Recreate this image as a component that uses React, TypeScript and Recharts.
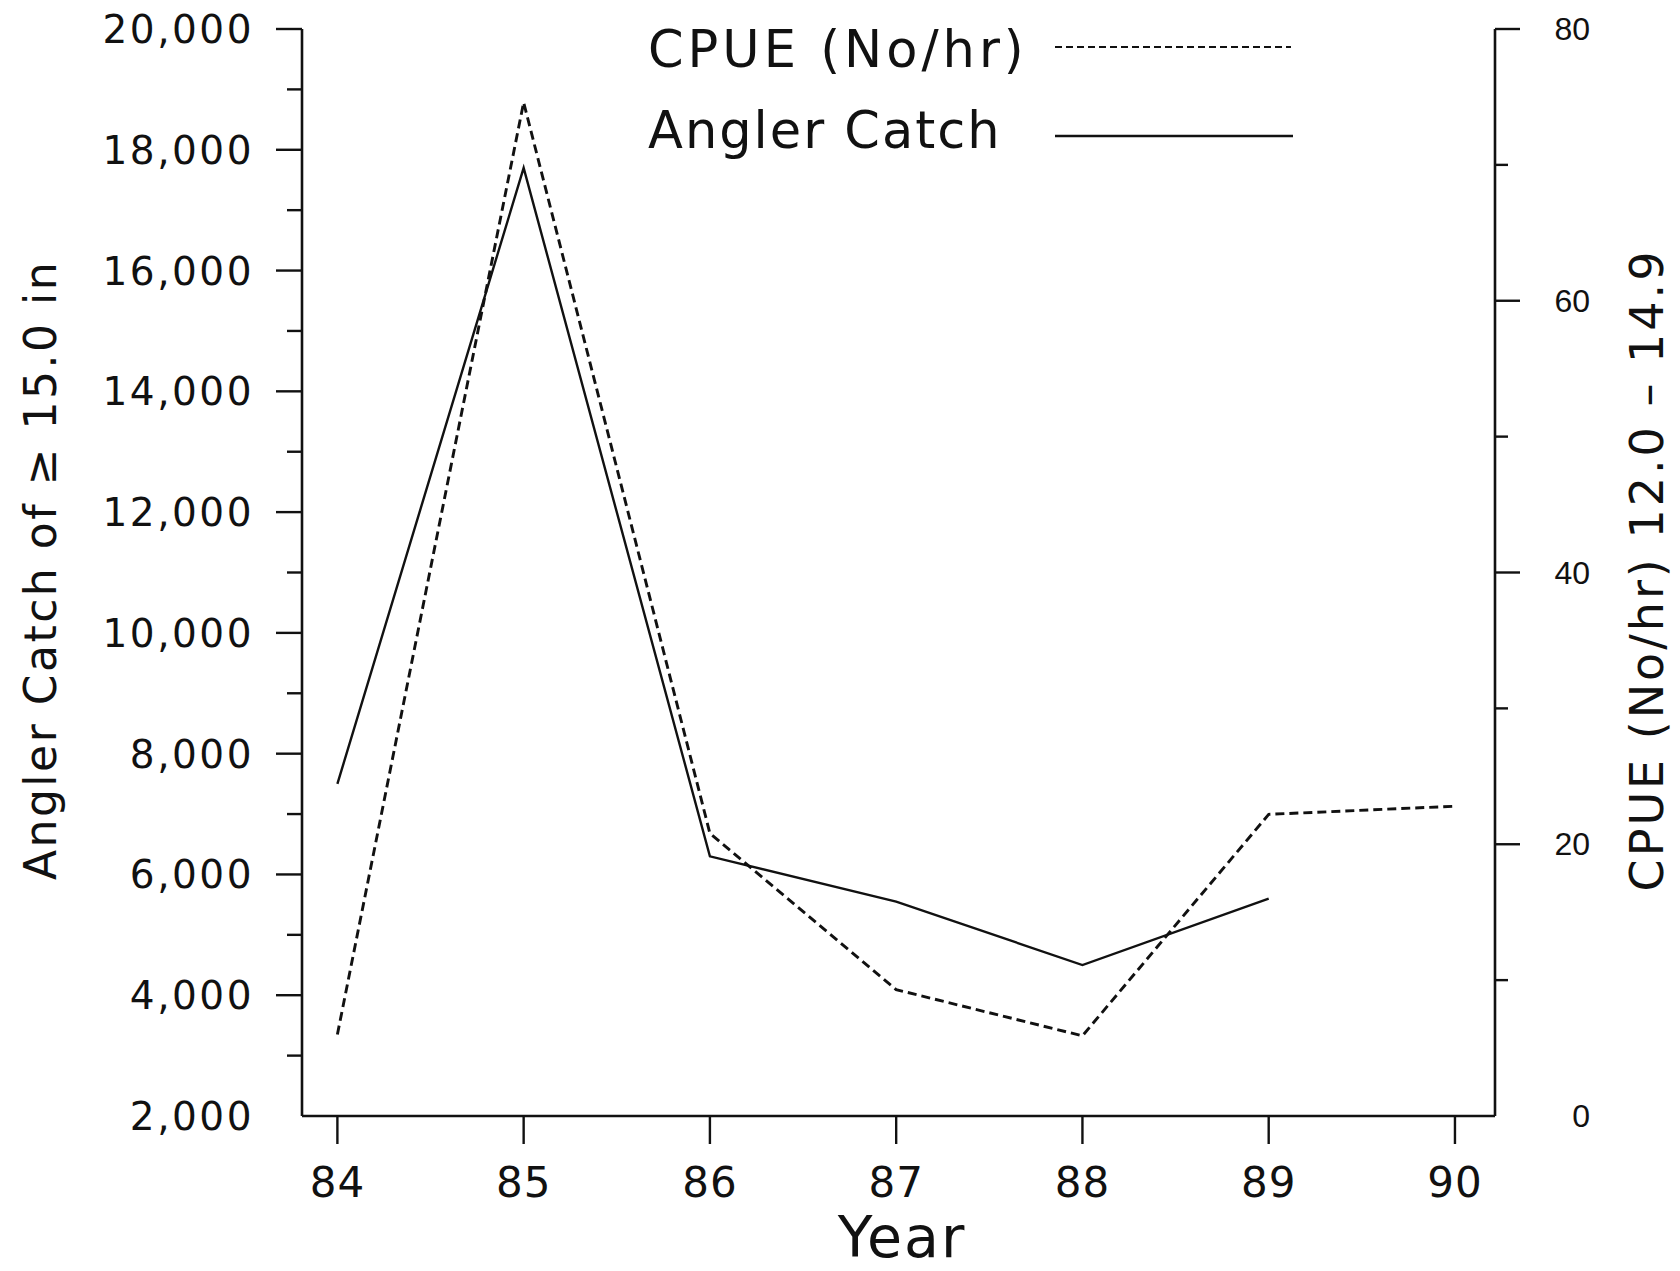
import { LineChart, Line, XAxis, YAxis, Legend, Label } from "recharts";

// survey years (19xx)
const years = [84, 85, 86, 87, 88, 89, 90];
// angler catch of fish >= 15.0 in (left axis), no estimate for 90
const anglerCatch = [7500, 17700, 6300, 5550, 4500, 5600, null];
// CPUE (No/hr) for 12.0 - 14.9 in fish (right axis)
const cpue = [6.0, 74.6, 20.8, 9.3, 5.9, 22.2, 22.8];

const catchTicks = [
  2000, 3000, 4000, 5000, 6000, 7000, 8000, 9000, 10000, 11000, 12000, 13000,
  14000, 15000, 16000, 17000, 18000, 19000, 20000,
];
const cpueTicks = [0, 10, 20, 30, 40, 50, 60, 70, 80];
const yearTicks = [84, 85, 86, 87, 88, 89, 90];

const data = years.map((year, i) => ({
  year,
  anglerCatch: anglerCatch[i],
  cpue: cpue[i],
}));

const FONT = "'DejaVu Sans', sans-serif";
const INK = "#111";

// left axis: long tick + label every 2000, short tick in between,
// no tick mark at the corner value
const CatchTick = (props: any) => {
  const { x, y, payload } = props;
  const major = payload.value % 2000 === 0;
  const corner = payload.value === 2000;
  return (
    <g>
      {!corner && (
        <line x1={x} y1={y} x2={x - (major ? 26 : 15)} y2={y} stroke={INK} strokeWidth={2.4} />
      )}
      {major && (
        <text
          x={x - 48}
          y={y + 14}
          textAnchor="end"
          fontFamily={FONT}
          fontSize={39}
          letterSpacing={2.5}
          fill={INK}
        >
          {payload.value.toLocaleString("en-US")}
        </text>
      )}
    </g>
  );
};

// right axis: labels every 20, short ticks at the tens
const CpueTick = (props: any) => {
  const { x, y, payload } = props;
  const major = payload.value % 20 === 0;
  const corner = payload.value === 0;
  return (
    <g>
      {!corner && (
        <line x1={x} y1={y} x2={x + (major ? 25 : 13)} y2={y} stroke={INK} strokeWidth={2.4} />
      )}
      {major && (
        <text
          x={1590}
          y={y + 11}
          textAnchor="end"
          fontFamily="'Liberation Sans', sans-serif"
          fontSize={32}
          fill={INK}
        >
          {payload.value}
        </text>
      )}
    </g>
  );
};

const YearTick = (props: any) => {
  const { x, y, payload } = props;
  return (
    <g>
      <line x1={x} y1={y} x2={x} y2={y + 28} stroke={INK} strokeWidth={2.4} />
      <text
        x={x}
        y={y + 81}
        textAnchor="middle"
        fontFamily={FONT}
        fontSize={42}
        letterSpacing={1}
        fill={INK}
      >
        {payload.value}
      </text>
    </g>
  );
};

const LegendBox = () => (
  <svg width={1680} height={180} style={{ display: "block" }}>
    <text x={648} y={67} fontFamily={FONT} fontSize={51} letterSpacing={4} fill={INK}>
      CPUE (No/hr)
    </text>
    <line x1={1055} y1={47} x2={1291} y2={47} stroke={INK} strokeWidth={2.2} strokeDasharray="7 4" />
    <text x={648} y={148} fontFamily={FONT} fontSize={51} letterSpacing={2} fill={INK}>
      Angler Catch
    </text>
    <line x1={1055} y1={136} x2={1293} y2={136} stroke={INK} strokeWidth={2.4} />
  </svg>
);

export default function App() {
  return (
    <div style={{ position: "absolute", left: 0, top: 0, background: "#fff" }}>
      <LineChart
        width={1680}
        height={1271}
        data={data}
        margin={{ top: 29, right: 0, bottom: 0, left: 0 }}
      >
        <XAxis
          dataKey="year"
          type="number"
          domain={[83.81, 90.215]}
          ticks={yearTicks}
          interval={0}
          allowDataOverflow
          height={155}
          tickSize={0}
          tickMargin={0}
          tickLine={false}
          axisLine={{ stroke: INK, strokeWidth: 2.6 }}
          tick={<YearTick />}
        >
          <Label
            content={() => (
              <text
                x={902}
                y={1257}
                textAnchor="middle"
                fontFamily={FONT}
                fontSize={57}
                letterSpacing={2}
                fill={INK}
              >
                Year
              </text>
            )}
          />
        </XAxis>
        <YAxis
          yAxisId="left"
          orientation="left"
          width={302}
          domain={[2000, 20000]}
          ticks={catchTicks}
          interval={0}
          tickSize={0}
          tickMargin={0}
          tickLine={false}
          axisLine={{ stroke: INK, strokeWidth: 2.6 }}
          tick={<CatchTick />}
        >
          <Label
            content={() => (
              <text
                x={56}
                y={570}
                transform="rotate(-90, 56, 570)"
                textAnchor="middle"
                fontFamily={FONT}
                fontSize={44}
                letterSpacing={2.5}
                fill={INK}
              >
                Angler Catch of ≥ 15.0 in
              </text>
            )}
          />
        </YAxis>
        <YAxis
          yAxisId="right"
          orientation="right"
          width={185}
          domain={[0, 80]}
          ticks={cpueTicks}
          interval={0}
          tickSize={0}
          tickMargin={0}
          tickLine={false}
          axisLine={{ stroke: INK, strokeWidth: 2.6 }}
          tick={<CpueTick />}
        >
          <Label
            content={() => (
              <text
                x={1663}
                y={570}
                transform="rotate(-90, 1663, 570)"
                textAnchor="middle"
                fontFamily={FONT}
                fontSize={46}
                letterSpacing={3}
                fill={INK}
              >
                CPUE (No/hr) 12.0 – 14.9
              </text>
            )}
          />
        </YAxis>
        {/* centred + middle keeps the legend out of the plot offset */}
        <Legend
          layout="horizontal"
          verticalAlign="middle"
          align="center"
          wrapperStyle={{ position: "absolute", left: 0, top: 0, width: 1680, height: 180 }}
          content={<LegendBox />}
        />
        <Line
          yAxisId="left"
          dataKey="anglerCatch"
          name="Angler Catch"
          stroke={INK}
          strokeWidth={2.4}
          dot={false}
          activeDot={false}
          isAnimationActive={false}
        />
        <Line
          yAxisId="right"
          dataKey="cpue"
          name="CPUE (No/hr)"
          stroke={INK}
          strokeWidth={2.9}
          strokeDasharray="9 5"
          dot={false}
          activeDot={false}
          isAnimationActive={false}
        />
      </LineChart>
    </div>
  );
}
